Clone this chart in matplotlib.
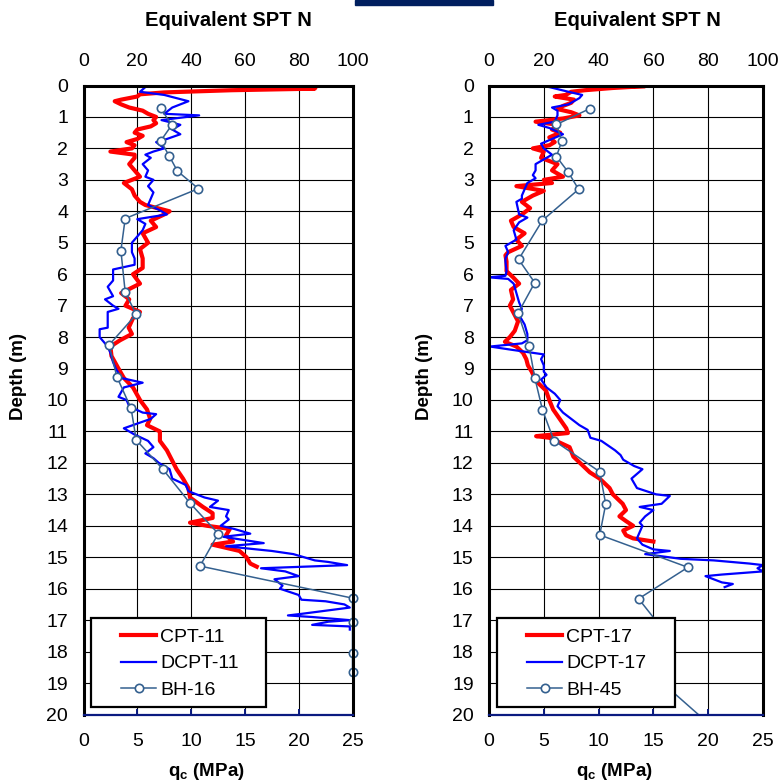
import matplotlib
matplotlib.use("Agg")
import matplotlib.pyplot as plt
from matplotlib.patches import Rectangle

plt.rcParams['font.family'] = ['Liberation Sans', 'DejaVu Sans']
plt.rcParams['mathtext.fontset'] = 'custom'
plt.rcParams['mathtext.bf'] = 'Liberation Sans:bold'
plt.rcParams['mathtext.rm'] = 'Liberation Sans'

# ---- CPT-11 / DCPT-11 / BH-16 (left) ----
cpt11_depth = [0, 0.02, 0.06, 0.1, 0.15, 0.22, 0.28, 0.35, 0.45, 0.5, 0.6, 0.7, 0.8, 0.9, 1.0,
               1.1, 1.2, 1.3, 1.4, 1.5, 1.6, 1.7, 1.8, 1.9, 2.0, 2.1, 2.2, 2.3, 2.5, 2.7, 2.9,
               3.1, 3.3, 3.5, 3.7, 3.8, 4.0, 4.1, 4.3, 4.5, 4.7, 5.0, 5.2, 5.5, 5.8, 6.0, 6.3,
               6.6, 6.8, 7.0, 7.2, 7.4, 7.7, 7.9, 8.1, 8.3, 8.6, 9.0, 9.3, 9.6, 10.0, 10.3,
               10.6, 10.8, 11.0, 11.3, 11.6, 11.9, 12.2, 12.5, 12.8, 13.1, 13.4, 13.6, 13.75,
               13.9, 14.0, 14.1, 14.3, 14.5, 14.6, 14.7, 14.8, 15.0, 15.2, 15.3]
cpt11_qc = [0, 21.75, 15.0, 21.5, 13.75, 7.5, 5.25, 5.0, 3.5, 2.9, 3.5, 4.25, 5.5, 6.0, 6.75,
            6.5, 6.75, 6.25, 5.0, 4.75, 5.5, 5.0, 4.0, 4.75, 4.5, 2.5, 4.75, 4.75, 4.25, 4.75, 5.25,
            3.75, 4.5, 4.75, 5.25, 5.75, 8.0, 7.5, 6.25, 6.75, 5.5, 6.0, 5.25, 5.5, 5.5, 4.6, 5.25,
            3.5, 4.25, 3.9, 5.25, 4.6, 4.2, 4.5, 3.4, 2.5, 2.6, 3.25, 3.75, 4.6, 5.25, 5.9,
            6.2, 5.9, 7.1, 7.1, 7.75, 8.2, 8.65, 9.25, 9.75, 9.9, 11.1, 12.0, 12.0,
            9.9, 11.5, 13.6, 13.25, 13.9, 12.0, 13.25, 14.5, 15.15, 15.5, 16.1]

dcpt11_depth = [0, 0.05, 0.2, 0.3, 0.5, 0.7, 0.9, 0.95, 1.1, 1.25, 1.4, 1.55, 1.7, 1.8, 2.0,
                2.1, 2.2, 2.3, 2.5, 2.7, 2.9, 3.0, 3.2, 3.4, 3.6, 3.8, 3.95, 4.1, 4.25, 4.4,
                4.6, 4.8, 5.0, 5.3, 5.5, 5.7, 5.85, 6.2, 6.4, 6.7, 6.8, 7.0, 7.1, 7.2, 7.7,
                7.75, 8.0, 8.3, 8.5, 8.8, 9.0, 9.3, 9.45, 9.6, 9.9, 10.0, 10.2, 10.4, 10.45,
                10.6, 10.9, 11.1, 11.3, 11.5, 11.7, 11.85, 12.0, 12.2, 12.5, 12.7, 12.9, 13.1,
                13.2, 13.4, 13.5, 13.7, 13.8, 14.0, 14.1, 14.25, 14.35, 14.55, 14.65, 14.8,
                14.9, 15.0, 15.1, 15.15, 15.25, 15.35, 15.45, 15.6, 15.7, 15.9, 16.0, 16.2,
                16.35, 16.4, 16.5, 16.6, 16.8, 16.85, 16.9, 17.0, 17.05, 17.15, 17.2, 17.3]
dcpt11_qc = [6.0, 5.75, 5.25, 7.5, 9.75, 8.25, 7.5, 10.75, 7.25, 9.0, 8.25, 9.0, 7.75, 6.75, 7.5,
             6.5, 5.75, 6.25, 5.5, 6.0, 5.75, 6.5, 6.0, 6.5, 6.25, 6.0, 7.0, 7.75, 5.0, 5.75,
             5.5, 5.0, 4.5, 4.5, 4.75, 4.75, 2.75, 2.75, 2.25, 2.75, 2.0, 2.75, 3.25, 2.25, 2.25,
             1.5, 1.5, 2.25, 2.5, 2.75, 3.0, 3.5, 5.5, 3.75, 3.25, 4.0, 4.25, 5.5, 6.75,
             6.25, 3.75, 4.75, 6.0, 6.5, 5.75, 6.5, 7.0, 8.0, 8.25, 9.5, 9.75, 11.25,
             12.5, 11.75, 13.5, 13.25, 13.5, 12.75, 14.0, 15.5, 13.0, 16.75, 13.25, 17.5,
             19.5, 20.5, 21.5, 22.75, 24.5, 16.5, 18.75, 20.0, 17.75, 18.5, 18.25, 20.0,
             20.25, 22.5, 24.25, 24.75, 20.25, 19.0, 21.25, 24.75, 22.75, 21.25, 24.75, 24.75]

bh16_depth = [0.72, 1.26, 1.76, 2.23, 2.72, 3.28, 4.23, 5.25, 6.57, 7.28, 8.25, 9.26, 10.27,
              11.27, 12.2, 13.28, 14.25, 15.28, 16.3, 17.07, 18.05, 18.66]
bh16_n = [28.7, 32.8, 28.7, 31.8, 34.9, 42.7, 15.5, 13.9, 15.5, 19.6, 9.5, 12.4, 17.7,
          19.6, 29.5, 39.6, 50.1, 43.3, 100, 100, 100, 100]

# ---- CPT-17 / DCPT-17 / BH-45 (right) ----
cpt17_depth = [0, 0.02, 0.08, 0.15, 0.2, 0.3, 0.35, 0.45, 0.55, 0.65, 0.75, 0.85, 0.95, 1.05,
               1.15, 1.25, 1.4, 1.5, 1.65, 1.8, 1.9, 2.0, 2.1, 2.3, 2.5, 2.7, 2.9, 3.0, 3.1,
               3.2, 3.35, 3.5, 3.7, 3.9, 4.1, 4.3, 4.5, 4.7, 4.9, 5.1, 5.3, 5.4, 5.6, 5.9,
               6.1, 6.3, 6.5, 6.8, 7.0, 7.3, 7.5, 7.8, 8.0, 8.15, 8.3, 8.5, 8.7, 8.9, 9.1,
               9.4, 9.7, 10.0, 10.3, 10.6, 10.9, 11.05, 11.15, 11.2, 11.5, 11.8, 12.0, 12.3,
               12.5, 12.8, 13.0, 13.3, 13.5, 13.7, 13.85, 14.0, 14.15, 14.3, 14.4, 14.5]
cpt17_qc = [0, 14.25, 11.25, 8.75, 7.5, 7.0, 6.0, 7.75, 7.5, 6.75, 6.25, 7.5, 8.25, 6.75,
            4.25, 6.25, 5.75, 6.5, 5.5, 6.0, 5.5, 4.0, 5.0, 4.75, 6.25, 5.75, 6.75, 5.0, 5.75,
            2.5, 5.0, 4.0, 3.0, 3.75, 3.0, 2.0, 2.25, 3.25, 2.5, 3.0, 1.75, 1.5, 1.6, 1.6,
            2.2, 2.75, 2.0, 2.2, 1.9, 2.35, 2.65, 2.35, 1.9, 1.45, 2.5, 3.1, 3.4, 3.55, 3.9,
            4.3, 5.2, 5.5, 5.85, 6.45, 7.05, 7.2, 4.3, 5.5, 7.35, 7.7, 8.3, 9.2,
            10.1, 11.0, 11.3, 12.2, 12.5, 11.9, 12.5, 13.15, 12.25, 12.5, 13.15, 15.0]

dcpt17_depth = [0, 0.05, 0.2, 0.3, 0.4, 0.6, 0.7, 0.8, 0.95, 1.15, 1.25, 1.35, 1.55, 1.7, 1.85,
                2.0, 2.2, 2.35, 2.5, 2.7, 2.85, 2.95, 3.1, 3.3, 3.5, 3.6, 3.7, 4.1, 4.2, 4.35,
                4.6, 4.9, 5.1, 5.3, 5.5, 5.6, 5.9, 6.05, 6.1, 6.15, 6.3, 6.6, 6.9, 7.1, 7.3,
                7.6, 7.9, 8.1, 8.2, 8.3, 8.4, 8.55, 8.7, 8.9, 9.1, 9.2, 9.35, 9.6, 9.8, 10.0,
                10.2, 10.4, 10.6, 10.8, 10.95, 11.2, 11.3, 11.6, 11.75, 11.9, 12.1, 12.2, 12.5,
                12.8, 13.0, 13.05, 13.3, 13.4, 13.5, 13.7, 13.9, 14.0, 14.2, 14.4, 14.6, 14.75,
                14.8, 14.9, 15.05, 15.1, 15.2, 15.25, 15.35, 15.45, 15.55, 15.6, 15.7, 15.8,
                15.85, 15.95]
dcpt17_qc = [4.5, 5.5, 7.25, 8.5, 8.25, 7.25, 5.75, 6.25, 6.25, 6.0, 4.5, 5.5, 6.75, 5.75, 4.75,
             5.0, 5.75, 5.0, 4.25, 4.25, 4.0, 4.25, 3.5, 3.25, 3.0, 3.0, 2.5, 2.75, 3.5, 2.75,
             2.25, 2.5, 1.5, 1.75, 1.5, 1.5, 1.6, 1.5, 0.0, 1.75, 2.25, 2.5, 2.75, 3.0, 2.75,
             3.25, 3.5, 3.5, 3.0, 0.1, 2.0, 5.0, 4.75, 5.0, 5.0, 5.25, 4.75, 5.25, 6.0, 6.5,
             6.25, 6.75, 7.5, 8.25, 9.0, 9.25, 10.25, 11.5, 12.0, 12.25, 13.25, 14.0, 13.0,
             13.5, 15.25, 16.5, 15.75, 13.75, 15.0, 14.25, 13.75, 14.0, 13.75, 13.5, 14.0, 15.0,
             16.5, 14.25, 17.5, 20.5, 23.75, 25.0, 24.5, 25.0, 21.25, 19.75, 20.5, 21.25,
             22.25, 21.5]

bh45_depth = [0.74, 1.24, 1.76, 2.26, 2.74, 3.30, 4.29, 5.53, 6.27, 7.24, 8.28, 9.29, 10.31,
              11.29, 12.28, 13.31, 14.29, 15.32, 16.32, 17.3, 18.3, 19.2, 20.2]
bh45_n = [36.7, 24.6, 26.6, 24.6, 28.8, 32.7, 19.5, 10.8, 16.7, 10.6, 14.6, 16.7, 19.5,
          23.7, 40.4, 42.6, 40.4, 72.6, 54.6, 63.5, 62, 66, 79]

depth_ticks = list(range(0, 21))
qc_ticks = [0, 5, 10, 15, 20, 25]
n_ticks = [0, 20, 40, 60, 80, 100]

RED = '#FF0000'
BLUE = '#0000FF'
STEEL = '#34608F'
NAVY = '#0A1A80'


def draw_panel(ax, cpt_d, cpt_q, dc_d, dc_q, bh_d, bh_n, names, ylab_x):
    ax.set_xlim(0, 25)
    ax.set_ylim(20, 0)
    ax.set_xticks(qc_ticks)
    ax.set_yticks(depth_ticks)
    ax.grid(True, color='black', lw=0.8, zorder=0)
    ax.set_axisbelow(True)

    ax.plot(cpt_q, cpt_d, color=RED, lw=3.0, label=names[0], zorder=3)
    ax.plot(dc_q, dc_d, color=BLUE, lw=1.6, label=names[1], zorder=3)
    bh_line, = ax.plot([n / 4 for n in bh_n], bh_d, color=STEEL, lw=1.1, marker='o', ms=6,
                       mfc='white', mec=STEEL, mew=1.2, label=names[2], zorder=4)
    # clip only top/bottom so the markers sitting on the right edge stay whole
    bh_line.set_clip_path(Rectangle((-0.1, 0), 1.2, 1, transform=ax.transAxes))

    for s in ['left', 'right', 'top']:
        ax.spines[s].set_linewidth(2.2)
        ax.spines[s].set_color('black')
        ax.spines[s].set_zorder(6)
    ax.spines['bottom'].set_color(NAVY)
    ax.spines['bottom'].set_linewidth(1.6)
    ax.spines['bottom'].set_zorder(6)

    ax.tick_params(axis='x', direction='in', length=4, width=1.4, color=NAVY,
                   labelsize=14, pad=13)
    ax.tick_params(axis='y', length=0, labelsize=14, pad=11)

    sec = ax.secondary_xaxis('top', functions=(lambda q: q * 4, lambda n: n / 4))
    sec.set_xticks(n_ticks)
    sec.tick_params(length=0, labelsize=14, pad=11)
    sec.spines['top'].set_visible(False)

    ax.text(0.54, 1.103, 'Equivalent SPT N', transform=ax.transAxes, ha='center',
            va='center', fontsize=14.5, fontweight='bold')
    ax.text(0.458, -0.09, r'$\mathbf{q_c}$ (MPa)', transform=ax.transAxes, ha='center',
            va='center', fontsize=13.5, fontweight='bold')
    ax.set_ylabel('Depth (m)', fontsize=13.5, fontweight='bold')
    ax.yaxis.set_label_coords(ylab_x, 0.537)

    box = Rectangle((0.028, 0.012), 0.652, 0.141, transform=ax.transAxes,
                    facecolor='white', edgecolor='black', lw=1.6, zorder=7)
    ax.add_patch(box)
    leg = ax.legend(loc='center left', bbox_to_anchor=(0.14, 0.081), frameon=False,
                    fontsize=14, handlelength=1.8, handletextpad=0.2, labelspacing=0.45,
                    borderpad=0, borderaxespad=0)
    leg.set_zorder(8)


fig = plt.figure(figsize=(7.81, 7.81), dpi=100)
ax1 = fig.add_axes([83.5 / 781, 66.5 / 781, 269 / 781, 629 / 781])
ax2 = fig.add_axes([489 / 781, 66.5 / 781, 274 / 781, 629 / 781])

draw_panel(ax1, cpt11_depth, cpt11_qc, dcpt11_depth, dcpt11_qc, bh16_depth, bh16_n,
           ['CPT-11', 'DCPT-11', 'BH-16'], -0.21)
draw_panel(ax2, cpt17_depth, cpt17_qc, dcpt17_depth, dcpt17_qc, bh45_depth, bh45_n,
           ['CPT-17', 'DCPT-17', 'BH-45'], -0.204)

# dark bar at the top edge
fig.patches.append(Rectangle((355 / 781, 1 - 5 / 781), 138 / 781, 5 / 781,
                             transform=fig.transFigure, color='#001F5F'))

fig.savefig('out.png', dpi=100)
